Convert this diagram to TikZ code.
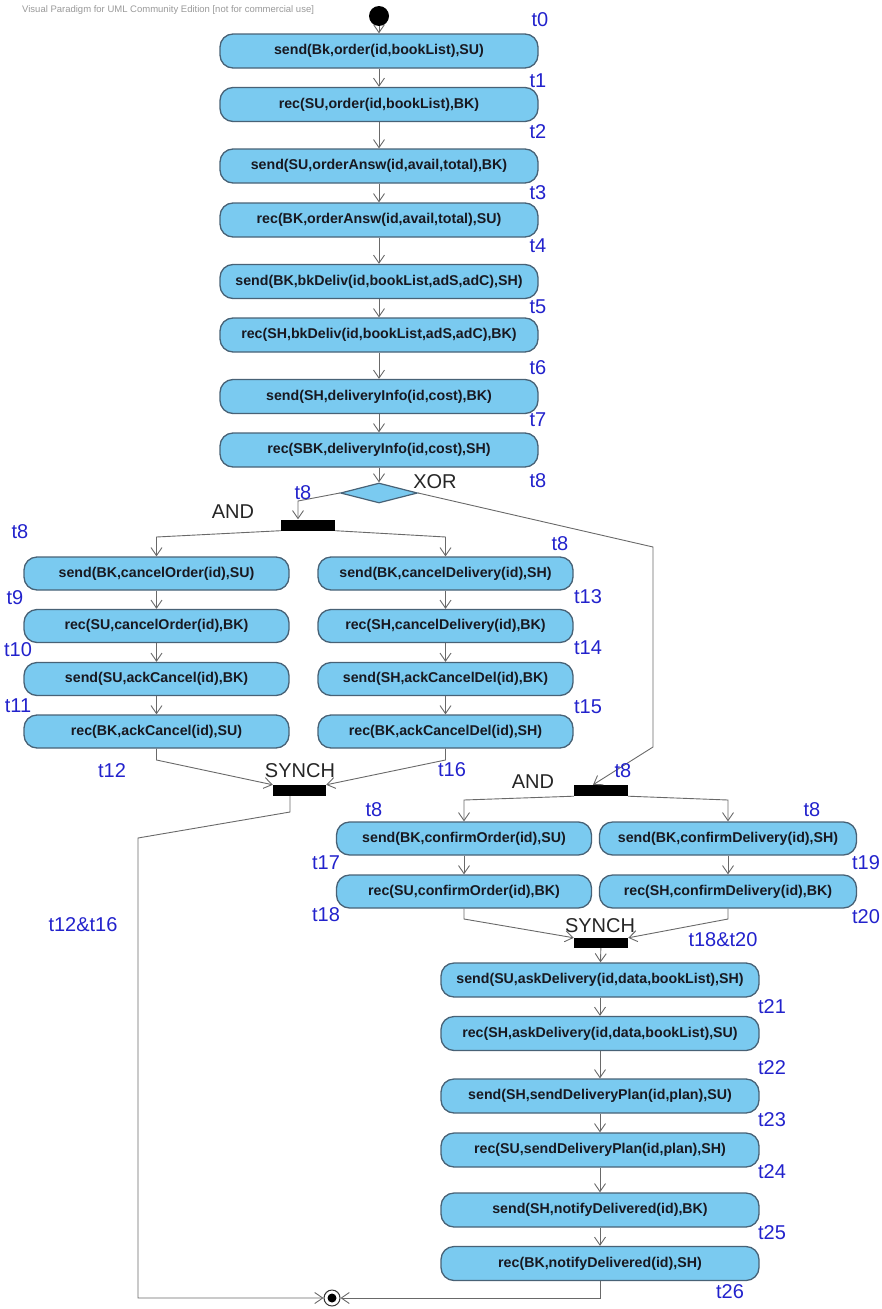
\documentclass[tikz,border=0pt]{standalone}
\usepackage{fontspec}
\setmainfont{Liberation Sans}
\usetikzlibrary{arrows.meta,shapes.geometric}

\definecolor{actfill}{RGB}{122,202,240}
\definecolor{actborder}{RGB}{72,98,118}
\definecolor{acttext}{RGB}{24,24,32}
\definecolor{linegray}{RGB}{105,105,105}
\definecolor{tblue}{RGB}{34,34,204}

\tikzset{
  act/.style={draw=actborder, fill=actfill, line width=1.3pt, rounded corners=13pt,
    minimum height=34pt, inner sep=0pt, text=acttext,
    font=\fontsize{14.2}{16}\selectfont\bfseries},
  tlab/.style={text=tblue, inner sep=0pt, font=\fontsize{20}{22}\selectfont},
  kw/.style={text=black!85, inner sep=0pt, font=\fontsize{20}{22}\selectfont},
  bar/.style={fill=black, draw=none, inner sep=0pt, minimum width=54pt, minimum height=11pt},
  flow/.style={draw=linegray, line width=0.9pt, -{Straight Barb[length=8pt,width=11pt]}},
  wire/.style={draw=linegray, line width=0.9pt},
}

\begin{document}
\begin{tikzpicture}[x=1pt,y=-1pt]
\useasboundingbox (0,0) rectangle (882,1309);

% tool banner
\node[anchor=west, inner sep=0pt, text=black!40, font=\fontsize{9.5}{10}\selectfont] (banner) at (22,10)
  {Visual Paradigm for UML Community Edition [not for commercial use]};

% start and end
\node[circle, fill=black, minimum size=20pt, inner sep=0pt] (init) at (379,16) {};
\node[circle, draw=black!80, fill=white, line width=1pt, minimum size=16pt, inner sep=0pt] (fin) at (332,1298) {};
\node[circle, fill=black, minimum size=9pt, inner sep=0pt] at (fin) {};

% main sequence
\node[act, minimum width=318pt] (b1) at (379,51)    {send(Bk,order(id,bookList),SU)};
\node[act, minimum width=318pt] (b2) at (379,104.5) {rec(SU,order(id,bookList),BK)};
\node[act, minimum width=318pt] (b3) at (379,166)   {send(SU,orderAnsw(id,avail,total),BK)};
\node[act, minimum width=318pt] (b4) at (379,220)   {rec(BK,orderAnsw(id,avail,total),SU)};
\node[act, minimum width=318pt] (b5) at (379,281.5) {send(BK,bkDeliv(id,bookList,adS,adC),SH)};
\node[act, minimum width=318pt] (b6) at (379,335)   {rec(SH,bkDeliv(id,bookList,adS,adC),BK)};
\node[act, minimum width=318pt] (b7) at (379,396.5) {send(SH,deliveryInfo(id,cost),BK)};
\node[act, minimum width=318pt] (b8) at (379,450)   {rec(SBK,deliveryInfo(id,cost),SH)};

% decision
\node[diamond, draw=actborder, fill=actfill, line width=1.2pt, inner sep=0pt,
      aspect=3.85, minimum width=77pt, minimum height=20pt] (dia) at (379,493) {};

% cancel branch
\node[bar] (fork1) at (308,525) {};
\node[act, minimum width=265pt, minimum height=33pt] (L1) at (156.5,573.5) {send(BK,cancelOrder(id),SU)};
\node[act, minimum width=265pt, minimum height=33pt] (L2) at (156.5,626)   {rec(SU,cancelOrder(id),BK)};
\node[act, minimum width=265pt, minimum height=33pt] (L3) at (156.5,679)   {send(SU,ackCancel(id),BK)};
\node[act, minimum width=265pt, minimum height=33pt] (L4) at (156.5,731.5) {rec(BK,ackCancel(id),SU)};
\node[act, minimum width=255pt, minimum height=33pt] (R1) at (445.5,573.5) {send(BK,cancelDelivery(id),SH)};
\node[act, minimum width=255pt, minimum height=33pt] (R2) at (445.5,626)   {rec(SH,cancelDelivery(id),BK)};
\node[act, minimum width=255pt, minimum height=33pt] (R3) at (445.5,679)   {send(SH,ackCancelDel(id),BK)};
\node[act, minimum width=255pt, minimum height=33pt] (R4) at (445.5,731.5) {rec(BK,ackCancelDel(id),SH)};
\node[bar, minimum width=53pt] (synch1) at (299.5,790.5) {};

% confirm branch
\node[bar] (fork2) at (601,790.5) {};
\node[act, minimum width=255pt, minimum height=33pt] (lo1) at (464,838.5) {send(BK,confirmOrder(id),SU)};
\node[act, minimum width=255pt, minimum height=33pt] (lo2) at (464,891.5) {rec(SU,confirmOrder(id),BK)};
\node[act, minimum width=257pt, minimum height=33pt] (ro1) at (728,838.5) {send(BK,confirmDelivery(id),SH)};
\node[act, minimum width=257pt, minimum height=33pt] (ro2) at (728,891.5) {rec(SH,confirmDelivery(id),BK)};
\node[bar, minimum height=10pt] (synch3) at (601,943) {};
\node[act, minimum width=318pt] (c1) at (600,980)    {send(SU,askDelivery(id,data,bookList),SH)};
\node[act, minimum width=318pt] (c2) at (600,1033.5) {rec(SH,askDelivery(id,data,bookList),SU)};
\node[act, minimum width=318pt] (c3) at (600,1096)   {send(SH,sendDeliveryPlan(id,plan),SU)};
\node[act, minimum width=318pt] (c4) at (600,1150)   {rec(SU,sendDeliveryPlan(id,plan),SH)};
\node[act, minimum width=318pt] (c5) at (600,1210)   {send(SH,notifyDelivered(id),BK)};
\node[act, minimum width=318pt] (c6) at (600,1263.5) {rec(BK,notifyDelivered(id),SH)};

% bend points
\coordinate (jl) at (298,501);
\coordinate (fl) at (156.5,537);
\coordinate (fr) at (445.5,537);
\coordinate (sl) at (156.5,760);
\coordinate (sr) at (445.5,760);
\coordinate (s1a) at (290,812);
\coordinate (s1b) at (138,838);
\coordinate (s1c) at (138,1298);
\coordinate (xa) at (653,547);
\coordinate (xb) at (653,747);
\coordinate (xc) at (593,785);
\coordinate (gl) at (464,800);
\coordinate (gr) at (728,800);
\coordinate (hl) at (464,919);
\coordinate (hr) at (728,919);
\coordinate (ea) at (600,1298);

% main flow
\draw[flow] (init) -- (b1);
\foreach \a/\b in {b1/b2,b2/b3,b3/b4,b4/b5,b5/b6,b6/b7,b7/b8}
  \draw[flow] (\a) -- (\b);
\draw[flow] (b8) -- (dia.north);

% to cancel fork
\draw[flow] (dia.west) -- (jl) -- (jl |- fork1.north);
\draw[flow] (fork1.south west) -- (fl) -- (L1.north);
\draw[flow] (fork1.south east) -- (fr) -- (R1.north);
\foreach \a/\b in {L1/L2,L2/L3,L3/L4,R1/R2,R2/R3,R3/R4}
  \draw[flow] (\a) -- (\b);
\draw[flow] (L4.south) -- (sl) -- (synch1.north west);
\draw[flow] (R4.south) -- (sr) -- (synch1.north east);
\draw[flow] (s1a |- synch1.south) -- (s1a) -- (s1b) -- (s1c) -- (fin.west);

% to confirm fork
\draw[flow] (dia.east) -- (xa) -- (xb) -- (xc |- fork2.north);
\draw[flow] (fork2.south west) -- (gl) -- (lo1.north);
\draw[flow] (fork2.south east) -- (gr) -- (ro1.north);
\draw[flow] (lo1) -- (lo2);
\draw[flow] (ro1) -- (ro2);
\draw[flow] (lo2.south) -- (hl) -- (synch3.north west);
\draw[flow] (ro2.south) -- (hr) -- (synch3.north east);
\draw[flow] (synch3) -- (c1);
\foreach \a/\b in {c1/c2,c2/c3,c3/c4,c4/c5,c5/c6}
  \draw[flow] (\a) -- (\b);
\draw[flow] (c6.south) -- (ea) -- (fin.east);

% keywords
\node[kw] (kxor) at (435,482) {XOR};
\node[kw] (kand1) at (233,512) {AND};
\node[kw] (ksyn1) at (300,771) {SYNCH};
\node[kw] (kand2) at (533,782) {AND};
\node[kw] (ksyn3) at (600,926) {SYNCH};

% transition labels
\node[tlab] (t0) at (540,20) {t0};
\node[tlab] (t1) at (538,81) {t1};
\node[tlab] (t2) at (538,132) {t2};
\node[tlab] (t3) at (538,193) {t3};
\node[tlab] (t4) at (538,246) {t4};
\node[tlab] (t5) at (538,307) {t5};
\node[tlab] (t6) at (538,368) {t6};
\node[tlab] (t7) at (538,420) {t7};
\node[tlab] (t8a) at (538,481) {t8};
\node[tlab] (t8b) at (303,493) {t8};
\node[tlab] (t8c) at (20,532) {t8};
\node[tlab] (t9) at (15,598) {t9};
\node[tlab] (t10) at (18,650) {t10};
\node[tlab] (t11) at (18,706) {t11};
\node[tlab] (t12) at (112,771) {t12};
\node[tlab] (t8d) at (560,544) {t8};
\node[tlab] (t13) at (588,597) {t13};
\node[tlab] (t14) at (588,648) {t14};
\node[tlab] (t15) at (588,707) {t15};
\node[tlab] (t16) at (452,770) {t16};
\node[tlab] (t8e) at (623,771) {t8};
\node[tlab] (t8f) at (374,810) {t8};
\node[tlab] (t8g) at (812,810) {t8};
\node[tlab] (t17) at (326,863) {t17};
\node[tlab] (t19) at (866,863) {t19};
\node[tlab] (t18) at (326,915) {t18};
\node[tlab] (t20) at (866,917) {t20};
\node[tlab] (t1820) at (723,940) {t18\&t20};
\node[tlab] (t1216) at (83,925) {t12\&t16};
\node[tlab] (t21) at (772,1007) {t21};
\node[tlab] (t22) at (772,1068) {t22};
\node[tlab] (t23) at (772,1120) {t23};
\node[tlab] (t24) at (772,1172) {t24};
\node[tlab] (t25) at (772,1233) {t25};
\node[tlab] (t26) at (730,1292) {t26};
\end{tikzpicture}
\end{document}
